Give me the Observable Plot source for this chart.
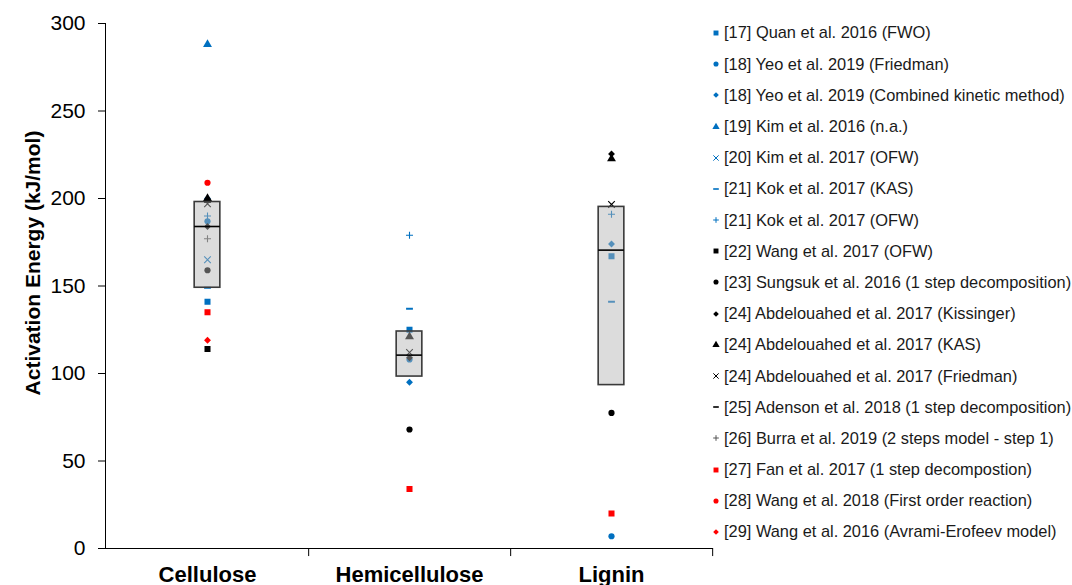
<!DOCTYPE html>
<html>
<head>
<meta charset="utf-8">
<script src="https://cdn.jsdelivr.net/npm/d3@7"></script>
<script src="https://cdn.jsdelivr.net/npm/@observablehq/plot@0.6"></script>
<style>
  html, body { margin: 0; padding: 0; background: #fff; }
  body { width: 1072px; height: 585px; overflow: hidden; font-family: "Liberation Sans", Arial, sans-serif; }
  #wrap { position: relative; width: 1072px; height: 585px; }
  #chart { position: absolute; left: 0; top: 0; }
  #legend { position: absolute; left: 710px; top: 17.4px; font-size: 16.4px; color: #1a1a1a; }
  #legend .row { height: 31.2px; display: flex; align-items: center; white-space: nowrap; }
  #legend svg { width: 12px; height: 12px; margin-right: 2px; flex: none; }
  g[aria-label="x-axis tick label"] { font-weight: bold; font-size: 22px; }
</style>
</head>
<body>
<div id="wrap"><div id="chart"></div><div id="legend"></div></div>
<script>
// ---------- data ----------
const categories = ["Cellulose", "Hemicellulose", "Lignin"];
const series = [
  "[17] Quan et al. 2016 (FWO)",
  "[18] Yeo et al. 2019 (Friedman)",
  "[18] Yeo et al. 2019 (Combined kinetic method)",
  "[19] Kim et al. 2016 (n.a.)",
  "[20] Kim et al. 2017 (OFW)",
  "[21] Kok et al. 2017 (KAS)",
  "[21] Kok et al. 2017 (OFW)",
  "[22] Wang et al. 2017 (OFW)",
  "[23] Sungsuk et al. 2016 (1 step decomposition)",
  "[24] Abdelouahed et al. 2017 (Kissinger)",
  "[24] Abdelouahed et al. 2017 (KAS)",
  "[24] Abdelouahed et al. 2017 (Friedman)",
  "[25] Adenson et al. 2018 (1 step decomposition)",
  "[26] Burra et al. 2019 (2 steps model - step 1)",
  "[27] Fan et al. 2017 (1 step decompostion)",
  "[28] Wang et al. 2018 (First order reaction)",
  "[29] Wang et al. 2016 (Avrami-Erofeev model)"
];
const celluloseValues     = [141, 187, 200, 288, 165, 149, 190, 114, 159, 184, 200, 197, 198, 177, 135, 209, 119];
const hemicelluloseValues = [125, 108, 95, null, null, 137, 179, null, 68, 109, 121, 112, null, null, 34, null, null];
const ligninValues        = [167, 7, 174, null, null, 141, 191, null, 77.5, 225.5, 222.7, 196.6, null, null, 20, null, null];
const yTicks = [0, 50, 100, 150, 200, 250, 300];
const yTitle = "Activation Energy (kJ/mol)";

// ---------- styles ----------
const BLUE = "#0070C0", BLACK = "#000000", RED = "#FF0000", DGRAY = "#555555";
const dash = {
  draw(context, size) {
    const r = Math.sqrt(size / Math.PI);
    context.rect(-r * 1.1, -r * 0.32, r * 2.2, r * 0.64);
    context.closePath();
  }
};
// kind: f = filled, s = stroked
const style = [
  {sym: "square", color: BLUE, kind: "f", r: 3.4},
  {sym: "circle", color: BLUE, kind: "f", r: 3.1},
  {sym: "diamond2", color: BLUE, kind: "f", r: 3.1},
  {sym: "triangle", color: BLUE, kind: "f", r: 3.3},
  {sym: "times", color: BLUE, kind: "s", r: 3.1},
  {sym: dash, color: BLUE, kind: "f", r: 3.1},
  {sym: "plus", color: BLUE, kind: "s", r: 2.4},
  {sym: "square", color: BLACK, kind: "f", r: 3.4},
  {sym: "circle", color: BLACK, kind: "f", r: 3.1},
  {sym: "diamond2", color: BLACK, kind: "f", r: 3.1},
  {sym: "triangle", color: BLACK, kind: "f", r: 3.3},
  {sym: "times", color: BLACK, kind: "s", r: 3.1},
  {sym: dash, color: BLACK, kind: "f", r: 3.1},
  {sym: "plus", color: DGRAY, kind: "s", r: 2.4},
  {sym: "square", color: RED, kind: "f", r: 3.4},
  {sym: "circle", color: RED, kind: "f", r: 3.1},
  {sym: "diamond2", color: RED, kind: "f", r: 3.1}
];

// ---------- table ----------
const valuesByCat = [celluloseValues, hemicelluloseValues, ligninValues];
const points = [];
series.forEach((s, i) => {
  categories.forEach((c, j) => {
    const v = valuesByCat[j][i];
    if (v != null) points.push({series: s, idx: i, category: c, value: v});
  });
});
const boxes = categories.map((c, j) => {
  const vals = valuesByCat[j].filter(v => v != null).sort(d3.ascending);
  return {category: c, q1: d3.quantile(vals, 0.25), median: d3.quantile(vals, 0.5), q3: d3.quantile(vals, 0.75)};
});

// ---------- chart ----------
const width = 715, height = 585;
const marginLeft = 105, marginRight = 3, marginTop = 23, marginBottom = 37;
const bw = (width - marginLeft - marginRight) / categories.length;
const boxW = 26;
const inset = (bw - boxW) / 2;

const dotMarks = series.map((s, i) => {
  const st = style[i];
  const opts = {x: "category", y: "value", symbol: st.sym, r: st.r};
  if (st.kind === "f") { opts.fill = st.color; opts.stroke = "none"; }
  else { opts.stroke = st.color; opts.fill = "none"; opts.strokeWidth = 1.1; }
  return Plot.dot(points.filter(p => p.idx === i), opts);
});

const chart = Plot.plot({
  width, height, marginLeft, marginRight, marginTop, marginBottom,
  style: {fontFamily: "'Liberation Sans', Arial, sans-serif", fontSize: "21px", color: "#000", background: "#fff", overflow: "visible"},
  x: {domain: categories, padding: 0, tickSize: 0, tickPadding: 18, label: null, line: true},
  y: {domain: [0, 300], ticks: yTicks, tickSize: 7, tickPadding: 13, line: true, label: null},
  marks: [
    Plot.ruleX(categories, {x: d => d, dx: bw / 2, y1: 0, y2: -4.6, stroke: "#000"}),
    ...dotMarks,
    Plot.barY(boxes, {x: "category", y1: "q1", y2: "q3", fill: "#b5b5b5", fillOpacity: 0.47,
      stroke: "#3a3a3a", strokeWidth: 1.6, insetLeft: inset, insetRight: inset}),
    Plot.tickY(boxes, {x: "category", y: "median", stroke: "#000", strokeWidth: 1.6, insetLeft: inset, insetRight: inset}),
    Plot.text([yTitle], {frameAnchor: "left", textAnchor: "middle", rotate: -90, dx: -72, dy: -23,
      fontWeight: "bold", fontSize: 21, fill: "#000"})
  ]
});
document.getElementById("chart").appendChild(chart);

// ---------- legend ----------
const legend = d3.select("#legend");
series.forEach((s, i) => {
  const st = style[i];
  const row = legend.append("div").attr("class", "row");
  const svg = row.append("svg").attr("viewBox", "-6 -6 12 12");
  const symType = typeof st.sym === "string" ? {
    square: d3.symbolSquare, circle: d3.symbolCircle, diamond2: d3.symbolDiamond2,
    triangle: d3.symbolTriangle, times: d3.symbolTimes, plus: d3.symbolPlus
  }[st.sym] : st.sym;
  const r = st.r * 0.82;
  const p = svg.append("path").attr("d", d3.symbol(symType, r * r * Math.PI)());
  if (st.kind === "f") p.attr("fill", st.color);
  else p.attr("fill", "none").attr("stroke", st.color).attr("stroke-width", 1);
  row.append("span").text(s);
});
</script>
</body>
</html>
